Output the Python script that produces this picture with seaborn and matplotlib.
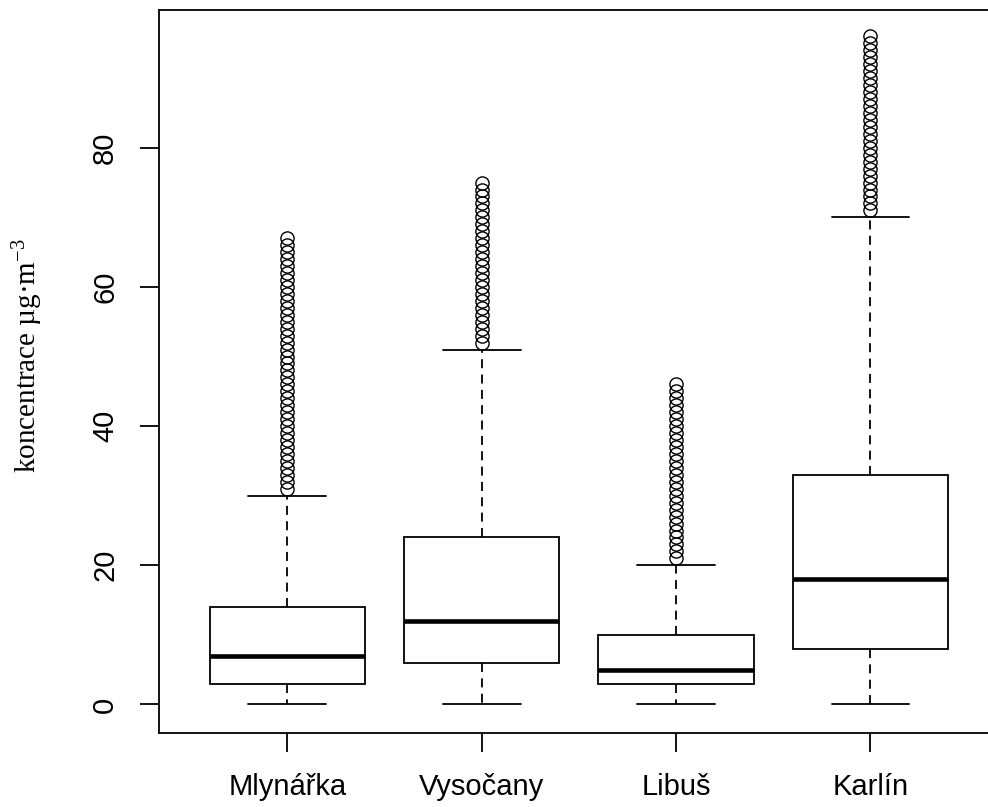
import matplotlib
matplotlib.use("Agg")
import matplotlib.pyplot as plt
import seaborn as sns
import pandas as pd

# Measuring stations and box summaries of the hourly concentrations
stations = ["Mlynářka", "Vysočany", "Libuš", "Karlín"]
lower_whisker = [0, 0, 0, 0]
q1 = [3, 6, 3, 8]
median = [7, 12, 5, 18]
q3 = [14, 24, 10, 33]
upper_whisker = [30, 51, 20, 70]

# Observed values above the upper whisker
outliers_mlynarka = [31, 32, 33, 34, 35, 36, 37, 38, 39, 40, 41, 42, 43, 44, 45,
                     46, 47, 48, 49, 50, 51, 52, 53, 54, 55, 56, 57, 58, 59, 60,
                     61, 62, 63, 64, 65, 66, 67]
outliers_vysocany = [52, 53, 54, 55, 56, 57, 58, 59, 60, 61, 62, 63, 64, 65, 66,
                     67, 68, 69, 70, 71, 72, 73, 74, 75]
outliers_libus = [21, 22, 23, 24, 25, 26, 27, 28, 29, 30, 31, 32, 33, 34, 35, 36,
                  37, 38, 39, 40, 41, 42, 43, 44, 45, 46]
outliers_karlin = [71, 72, 73, 74, 75, 76, 77, 78, 79, 80, 81, 82, 83, 84, 85, 86,
                   87, 88, 89, 90, 91, 92, 93, 94, 95, 96]
outliers = [outliers_mlynarka, outliers_vysocany, outliers_libus, outliers_karlin]

yticks = [0, 20, 40, 60, 80]

# Long-form table whose quartiles, whiskers and outliers equal the summaries above
weight = 100
rows = []
for i, name in enumerate(stations):
    values = ([lower_whisker[i]] + [q1[i]] * weight + [median[i]] * weight
              + [q3[i]] * weight + [upper_whisker[i]] + outliers[i])
    rows += [(name, v) for v in values]
df = pd.DataFrame(rows, columns=["stanice", "koncentrace"])

sns.set_style("ticks")
plt.rcParams["font.family"] = ["Liberation Sans", "DejaVu Sans"]
plt.rcParams["mathtext.fontset"] = "custom"
plt.rcParams["mathtext.rm"] = "Liberation Serif"
plt.rcParams["mathtext.it"] = "Liberation Serif:italic"

fig = plt.figure(figsize=(9.88, 8.07), dpi=100)
ax = fig.add_axes([159 / 988, 74 / 807, (998.8 - 159) / 988, 723 / 807])

lw = 1.3
sns.boxplot(
    data=df, x="stanice", y="koncentrace", order=stations, ax=ax,
    color="white", linecolor="black", linewidth=lw, width=0.8, whis=1.5,
    saturation=1,
    medianprops=dict(color="black", linewidth=3.3, solid_capstyle="butt"),
    whiskerprops=dict(color="black", linewidth=lw, linestyle=(0, (5, 3.5))),
    capprops=dict(color="black", linewidth=lw),
    boxprops=dict(edgecolor="black", linewidth=lw),
    flierprops=dict(marker="o", markerfacecolor="none", markeredgecolor="black",
                    markersize=9.5, markeredgewidth=1.0),
)

ax.set_xlim(-0.66, 3.66)
ax.set_ylim(-4.1, 99.8)
ax.set_yticks(yticks)
ax.set_yticklabels([str(t) for t in yticks], rotation=90, va="center")
ax.set_xlabel("")
ax.set_ylabel("")

for side in ["left", "right", "top", "bottom"]:
    ax.spines[side].set_visible(True)
    ax.spines[side].set_color("black")
    ax.spines[side].set_linewidth(lw)

ax.tick_params(axis="both", direction="out", length=13.7, width=lw,
               color="black", labelsize=21, labelcolor="black")
ax.tick_params(axis="x", pad=15)
ax.tick_params(axis="y", pad=15)

fig.text(28 / 988, 1 - 356 / 807, "koncentrace µg·m$^{-3}$", rotation=90,
         ha="center", va="center", fontsize=21, family="Liberation Serif",
         color="black")

fig.savefig("out.png", dpi=100)
